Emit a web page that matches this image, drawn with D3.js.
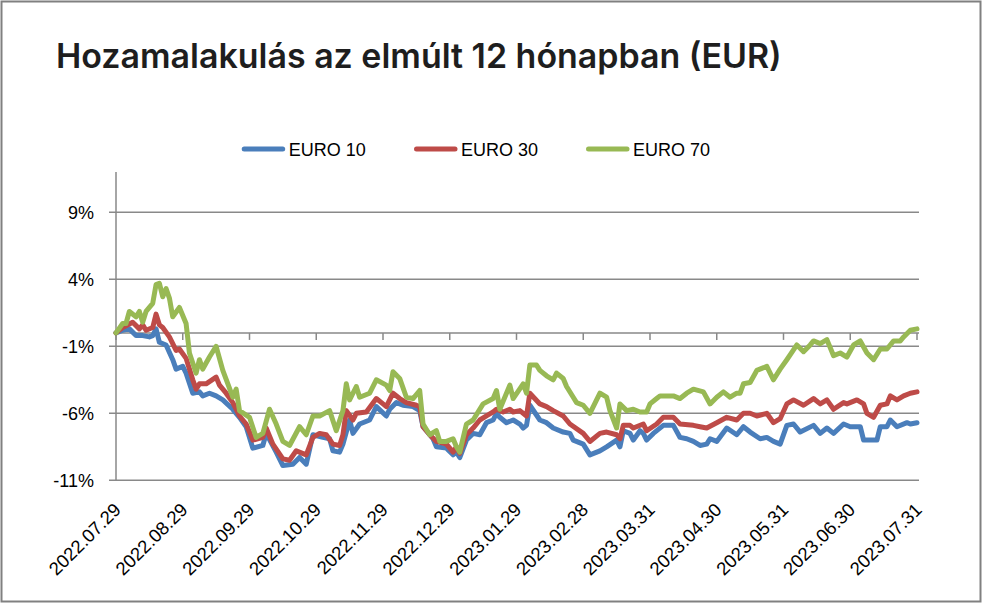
<!DOCTYPE html>
<html lang="hu">
<head>
    <meta charset="utf-8">
    <title>Hozamalakulás az elmúlt 12 hónapban (EUR)</title>
    <script src="https://cdn.jsdelivr.net/npm/d3@7"></script>
    <style>
        body { margin: 0; background: #fff; }
        svg text {
            font-family: "Liberation Sans", Arial, sans-serif;
            fill: #000;
        }
        svg text.title {
            font-family: Inter, "Open Sans", sans-serif;
            font-weight: 600;
            fill: #1e1e1e;
        }
    </style>
</head>
<body>
    <svg id="chart" width="983" height="604"></svg>

    <script>
        // x is a trading-day index, 20 days per monthly label
        const tickLabels = ["2022.07.29", "2022.08.29", "2022.09.29", "2022.10.29", "2022.11.29", "2022.12.29",
            "2023.01.29", "2023.02.28", "2023.03.31", "2023.04.30", "2023.05.31", "2023.06.30", "2023.07.31"];
        const yTicks = [-11, -6, -1, 4, 9];
        const seriesNames = ["EURO 10", "EURO 30", "EURO 70"];
        const seriesColors = ["#4a7ebb", "#be4b48", "#98b954"];

        // [day, return %]
        const euro10 = [[0,0],[2,0.2],[4,0.3],[6,-0.2],[8,-0.2],[10,-0.3],[11,-0.2],[12,0.3],[13,-0.7],[15,-0.9],
            [17,-2.0],[18,-2.7],[20,-2.5],[21,-3.0],[23,-4.5],[25,-4.4],[26,-4.7],[28,-4.5],[30,-4.7],[32,-5.0],
            [35,-5.7],[37,-6.3],[39,-7.0],[41,-8.6],[44,-8.4],[45,-7.5],[48,-8.9],[50,-9.9],[53,-9.8],[55,-9.3],
            [57,-9.8],[59,-7.6],[62,-7.8],[64,-7.9],[65,-8.8],[67,-8.9],[68,-8.3],[70,-6.5],[71,-7.5],[73,-6.8],
            [76,-6.5],[78,-5.5],[81,-6.2],[82,-5.7],[84,-5.2],[86,-5.4],[89,-5.5],[91,-5.8],[92,-7.0],[95,-7.9],
            [96,-8.5],[99,-8.6],[101,-9.1],[102,-8.9],[103,-9.3],[105,-8.0],[107,-7.5],[109,-7.6],[111,-6.7],[113,-6.5],
            [114,-6.0],[115,-6.3],[117,-6.7],[119,-6.5],[121,-6.8],[122,-7.1],[123,-6.9],[124,-5.4],[127,-6.5],[129,-6.7],
            [131,-7.1],[134,-7.4],[136,-7.5],[137,-8.0],[140,-8.3],[142,-9.1],[145,-8.8],[147,-8.5],[150,-8.0],[151,-8.5],
            [152,-7.3],[154,-7.5],[155,-8.0],[157,-7.3],[158,-7.5],[159,-8.0],[161,-7.5],[164,-6.9],[167,-6.9],[169,-7.8],
            [171,-7.9],[173,-8.1],[175,-8.4],[177,-8.3],[178,-7.9],[180,-8.1],[183,-7.1],[186,-7.6],[188,-7.0],[190,-7.4],
            [193,-7.9],[195,-7.8],[197,-8.1],[199,-8.3],[201,-6.9],[203,-6.8],[205,-7.4],[209,-6.9],[211,-7.5],[213,-7.1],
            [215,-7.5],[218,-6.8],[220,-7.0],[223,-7.0],[224,-8.0],[228,-8.0],[229,-7.0],[231,-7.0],[232,-6.5],[234,-7.0],
            [237,-6.7],[238,-6.8],[240,-6.7]];

        const euro30 = [[0,0],[2,0.4],[5,0.8],[7,0.3],[8,0.6],[9,0.2],[11,0.4],[12,1.4],[13,0.6],[14,0.4],
            [16,-0.3],[18,-1.3],[19,-1.2],[21,-1.9],[23,-3.5],[24,-4.2],[25,-3.8],[27,-3.8],[30,-3.3],[31,-3.9],
            [33,-4.5],[35,-5.2],[37,-6.2],[39,-6.8],[41,-8.0],[44,-7.8],[45,-7.1],[47,-8.3],[50,-9.4],[52,-9.5],
            [54,-8.8],[57,-9.1],[59,-7.8],[61,-7.5],[63,-7.6],[65,-8.3],[67,-8.4],[68,-7.6],[69,-5.8],[71,-6.5],
            [72,-6.0],[75,-5.9],[78,-4.9],[80,-5.3],[81,-5.5],[83,-4.5],[85,-4.9],[87,-5.2],[90,-5.4],[91,-5.5],
            [92,-7.0],[94,-7.6],[96,-8.1],[99,-8.3],[101,-8.9],[102,-8.5],[103,-9.0],[105,-7.6],[107,-7.1],[109,-6.5],
            [111,-6.2],[113,-5.9],[114,-5.7],[116,-5.9],[118,-5.7],[119,-5.9],[121,-5.8],[123,-6.2],[124,-4.5],[127,-5.3],
            [129,-5.5],[131,-5.8],[134,-6.2],[136,-6.8],[140,-7.5],[142,-8.1],[145,-7.5],[147,-7.4],[150,-7.6],[151,-7.9],
            [152,-6.9],[154,-6.9],[155,-7.1],[158,-6.8],[159,-7.3],[162,-6.8],[164,-6.3],[167,-6.3],[169,-6.8],[173,-6.9],
            [175,-7.0],[177,-7.1],[180,-6.7],[183,-6.3],[186,-6.5],[188,-6.0],[190,-6.0],[192,-6.2],[195,-6.0],[197,-6.7],
            [199,-6.4],[201,-5.3],[203,-5.0],[206,-5.4],[209,-4.9],[211,-5.3],[213,-5.0],[215,-5.7],[218,-5.2],[219,-5.3],
            [222,-5.0],[224,-5.3],[225,-6.0],[227,-6.3],[229,-5.4],[231,-5.3],[232,-4.7],[234,-5.0],[236,-4.7],[238,-4.5],
            [240,-4.4]];

        const euro70 = [[0,0],[2,0.7],[3,0.7],[4,1.6],[6,1.2],[7,1.6],[8,0.8],[9,1.6],[11,2.2],[12,3.6],
            [13,3.7],[14,2.7],[15,3.3],[16,2.6],[17,1.2],[19,1.9],[21,0.7],[22,-1.5],[24,-3.0],[25,-2.0],
            [26,-2.7],[28,-1.8],[30,-1.0],[32,-2.8],[35,-4.8],[36,-4.2],[37,-5.8],[40,-6.3],[42,-7.8],[44,-7.5],
            [46,-5.7],[48,-6.8],[50,-8.1],[52,-8.4],[55,-7.0],[57,-7.6],[59,-6.2],[61,-6.2],[64,-5.8],[66,-7.3],
            [68,-5.8],[69,-3.8],[70,-5.0],[72,-4.0],[73,-4.8],[76,-4.5],[78,-3.5],[81,-3.9],[82,-4.3],[83,-2.9],
            [85,-3.4],[87,-4.8],[89,-4.9],[91,-4.3],[92,-6.8],[94,-7.6],[96,-7.3],[97,-8.1],[99,-8.1],[101,-7.9],
            [102,-8.5],[103,-8.9],[105,-6.8],[107,-6.5],[110,-5.3],[113,-4.9],[114,-4.3],[115,-5.7],[118,-3.9],[119,-4.9],
            [122,-3.8],[123,-4.5],[124,-2.4],[126,-2.4],[127,-2.8],[129,-3.2],[131,-3.5],[132,-3.0],[134,-3.4],[135,-4.0],
            [137,-4.8],[138,-5.2],[140,-5.4],[142,-6.0],[145,-4.5],[147,-4.8],[148,-5.8],[150,-7.1],[151,-5.3],[153,-5.8],
            [155,-5.7],[157,-5.9],[159,-5.9],[160,-5.3],[162,-4.9],[163,-4.7],[167,-4.7],[169,-4.9],[171,-4.5],[173,-4.2],
            [176,-4.4],[178,-5.3],[180,-4.8],[182,-4.4],[184,-4.8],[186,-4.5],[187,-4.5],[188,-3.8],[190,-3.7],[192,-2.8],
            [195,-2.5],[197,-3.5],[199,-2.7],[201,-2.0],[204,-0.9],[206,-1.4],[208,-0.9],[209,-0.6],[211,-0.8],[213,-0.5],
            [215,-1.7],[217,-1.5],[219,-1.8],[221,-0.9],[223,-0.6],[225,-1.5],[227,-2.0],[229,-1.2],[231,-1.2],[233,-0.6],
            [235,-0.6],[236,-0.3],[238,0.2],[240,0.3]];

        const seriesData = [euro10, euro30, euro70];

        const svg = d3.select("#chart");
        const gridColor = "#898989";

        // outer frame
        svg.append("rect")
            .attr("x", 1.5).attr("y", 1.5)
            .attr("width", 979).attr("height", 600)
            .attr("fill", "none")
            .attr("stroke", "#808080")
            .attr("stroke-width", 2);

        // title, sized to the reference width
        const title = svg.append("text")
            .attr("class", "title")
            .attr("x", 56).attr("y", 68)
            .style("font-size", "30px")
            .text("Hozamalakulás az elmúlt 12 hónapban (EUR)");
        const tw = title.node().getComputedTextLength();
        title.style("font-size", (30 * 726 / tw) + "px");

        const x = d3.scaleLinear().domain([0, 240]).range([116, 917]);
        const y = d3.scaleLinear().domain([-11, 12]).range([480.3, 172.1]);

        // horizontal gridlines
        svg.append("g").selectAll("line")
            .data(yTicks)
            .enter().append("line")
            .attr("x1", 109).attr("x2", 919)
            .attr("y1", d => y(d)).attr("y2", d => y(d))
            .attr("stroke", gridColor)
            .attr("stroke-width", 1.5);

        // y axis
        svg.append("line")
            .attr("x1", 116).attr("x2", 116)
            .attr("y1", y(12)).attr("y2", y(-11))
            .attr("stroke", gridColor)
            .attr("stroke-width", 1.5);

        svg.append("g").selectAll("text")
            .data(yTicks)
            .enter().append("text")
            .attr("x", 94)
            .attr("y", d => y(d))
            .attr("dy", "0.36em")
            .attr("text-anchor", "end")
            .style("font-size", "18px")
            .text(d => d + "%");

        // x axis on the zero line
        svg.append("line")
            .attr("x1", 116).attr("x2", 919)
            .attr("y1", y(0)).attr("y2", y(0))
            .attr("stroke", gridColor)
            .attr("stroke-width", 1.5);

        svg.append("g").selectAll("line")
            .data(tickLabels)
            .enter().append("line")
            .attr("x1", (d, i) => x(i * 20)).attr("x2", (d, i) => x(i * 20))
            .attr("y1", y(0)).attr("y2", y(0) + 7)
            .attr("stroke", gridColor)
            .attr("stroke-width", 1.5);

        svg.append("g").selectAll("text")
            .data(tickLabels)
            .enter().append("text")
            .attr("transform", (d, i) => `translate(${x(i * 20) + 6},511) rotate(-45)`)
            .attr("text-anchor", "end")
            .style("font-size", "18.5px")
            .text(d => d);

        // series lines
        const line = d3.line()
            .x(d => x(d[0]))
            .y(d => y(d[1]));

        svg.append("g").selectAll("path")
            .data(seriesData)
            .enter().append("path")
            .attr("d", line)
            .attr("fill", "none")
            .attr("stroke", (d, i) => seriesColors[i])
            .attr("stroke-width", 5)
            .attr("stroke-linejoin", "round")
            .attr("stroke-linecap", "round");

        // legend
        const legendX = [241.7, 414, 586];
        const legend = svg.append("g").selectAll("g")
            .data(seriesNames)
            .enter().append("g")
            .attr("transform", (d, i) => `translate(${legendX[i]},149)`);

        legend.append("line")
            .attr("x1", 2.5).attr("x2", 41)
            .attr("y1", 0).attr("y2", 0)
            .attr("stroke", (d, i) => seriesColors[i])
            .attr("stroke-width", 5)
            .attr("stroke-linecap", "round");

        legend.append("text")
            .attr("x", 47)
            .attr("y", 6.5)
            .style("font-size", "18px")
            .text(d => d);
    </script>
</body>
</html>
